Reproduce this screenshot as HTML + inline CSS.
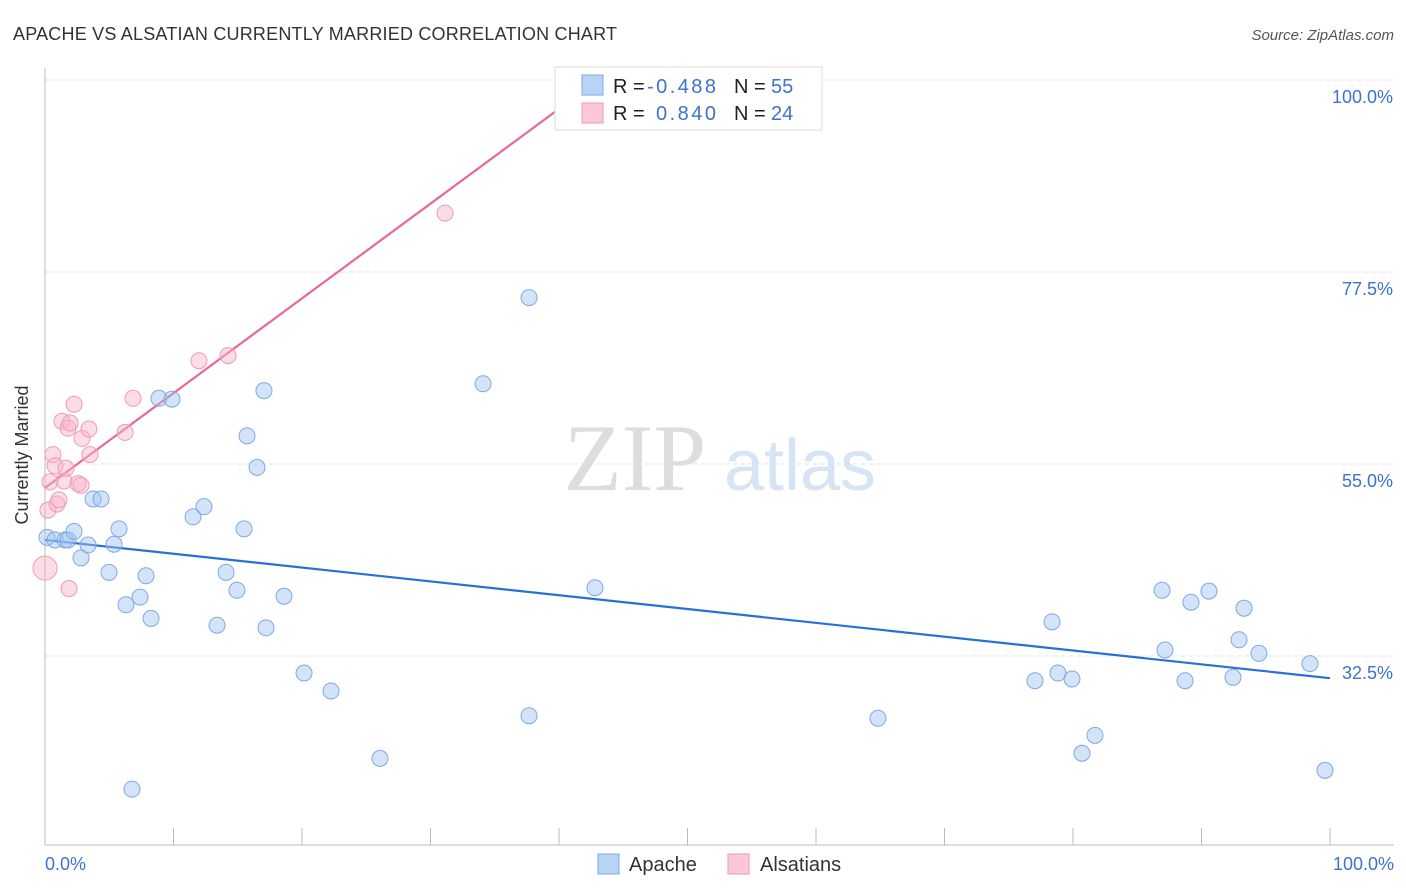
<!DOCTYPE html>
<html><head><meta charset="utf-8"><style>
body{margin:0;background:#fff;font-family:"Liberation Sans",sans-serif;}
svg{display:block}
</style></head><body>
<svg id="c" width="1406" height="892">
<text x="13" y="40" font-size="18" fill="#333" textLength="604">APACHE VS ALSATIAN CURRENTLY MARRIED CORRELATION CHART</text>
<text x="1394" y="40" font-size="15" fill="#555" font-style="italic" text-anchor="end">Source: ZipAtlas.com</text>
<g>
<text x="635" y="490" font-size="95" fill="#ddd" font-family="Liberation Serif,serif" text-anchor="middle">ZIP</text>
<text x="800" y="490" font-size="72" fill="#d6e4f5" text-anchor="middle">atlas</text>
</g>
<g id="grid"></g><g id="axes"></g><g id="lines"></g><g id="pts"></g>
<text x="28" y="455" font-size="18" fill="#333" text-anchor="middle" transform="rotate(-90 28 455)">Currently Married</text>
<text x="45" y="870" font-size="18" fill="#3b73d1">0.0%</text>
<text x="1394" y="870" font-size="18" fill="#3b73d1" text-anchor="end">100.0%</text>
<g>
<rect x="555" y="67" width="267" height="63" fill="#fff" stroke="#ddd"/>
<rect x="582" y="75" width="21" height="20" fill="#b9d3f5" stroke="#7ea8e6"/>
<rect x="582" y="103" width="21" height="20" fill="#fbc8d8" stroke="#ef9ab5"/>
<text font-size="20" fill="#222" x="613" y="93">R = <tspan fill="#3b73d1" x="647" textLength="69">-0.488</tspan><tspan x="734">N = </tspan><tspan fill="#3b73d1" x="771">55</tspan></text>
<text font-size="20" fill="#222" x="613" y="120">R = <tspan fill="#3b73d1" x="656" textLength="60">0.840</tspan><tspan x="734">N = </tspan><tspan fill="#3b73d1" x="771">24</tspan></text>
</g>
<g>
<rect x="598" y="854" width="21" height="20" fill="#b9d3f5" stroke="#7ea8e6"/>
<text x="629" y="871" font-size="20" fill="#333">Apache</text>
<rect x="728" y="854" width="21" height="20" fill="#fbc8d8" stroke="#ef9ab5"/>
<text x="760" y="871" font-size="20" fill="#333">Alsatians</text>
</g>
</svg>
<script>
const yTicks=[100,77.5,55,32.5];
const yTickLabels=["100.0%","77.5%","55.0%","32.5%"];
const xTicks=[0,10,20,30,40,50,60,70,80,90,100];
const apacheX=[0.16,0.78,1.56,1.79,2.26,2.80,3.35,3.74,4.36,4.98,5.37,5.76,6.30,7.39,7.86,8.25,8.87,9.88,11.52,12.37,13.39,14.09,14.94,15.49,15.72,16.50,17.04,17.20,18.60,20.16,22.26,26.07,6.77,34.09,37.67,37.67,42.80,64.82,77.04,78.37,78.83,79.92,80.70,81.71,86.93,87.16,88.72,89.18,90.58,92.45,92.92,93.31,94.47,98.44,99.61];
const apacheY=[46.4,46.1,46.1,46.1,47.1,44.0,45.5,50.9,50.9,42.3,45.6,47.4,38.5,39.4,41.9,36.9,62.7,62.6,48.8,50.0,36.1,42.3,40.2,47.4,58.3,54.6,63.6,35.8,39.5,30.5,28.4,20.5,16.9,64.4,74.5,25.5,40.5,25.2,29.6,36.5,30.5,29.8,21.1,23.2,40.2,33.2,29.6,38.8,40.1,30.0,34.4,38.1,32.8,31.6,19.1];
const alsX=[0,0.23,0.62,0.78,0.93,1.09,1.32,1.48,1.63,1.79,1.87,1.95,2.26,2.57,2.80,2.88,3.42,3.50,6.23,6.85,11.98,14.24,31.13,0.39];
const alsY=[42.8,49.6,56.1,54.8,50.3,50.8,60.0,53.0,54.5,59.2,40.4,59.8,62.0,52.7,52.5,58.0,59.1,56.1,58.7,62.7,67.1,67.7,84.4,52.9];
const apacheTrend=[[0,46.1],[100,29.9]];
const alsTrend=[[0,52.2],[40.08,96.7]];
const NS="http://www.w3.org/2000/svg";
const X=p=>45+p*12.85, Y=v=>80+(100-v)*8.533;
function mk(t,a,parent){const e=document.createElementNS(NS,t);for(const k in a)e.setAttribute(k,a[k]);document.getElementById(parent).appendChild(e);return e;}
yTicks.forEach((v,i)=>{
 const l=mk('line',{x1:45,x2:1394,y1:Y(v),y2:Y(v),stroke:'#ddd','stroke-dasharray':'4,4'},'grid');
 
 
 const t=mk('text',{x:1393,y:Y(v)+23,'font-size':18,fill:'#3b73d1','text-anchor':'end'},'grid');
 t.textContent=yTickLabels[i];
 
 
});
const ax=mk('line',{x1:45,x2:45,y1:68,y2:845,stroke:'#bbb'},'axes');


const bx=mk('line',{x1:45,x2:1394,y1:845,y2:845,stroke:'#bbb'},'axes');


xTicks.forEach(p=>{
 const t=mk('line',{x1:X(p),x2:X(p),y1:828,y2:845,stroke:'#bbb'},'axes');
 
 
});
apacheX.forEach((p,i)=>{
 const c=mk('circle',{cx:X(p),cy:Y(apacheY[i]),r:8,fill:'rgba(160,196,240,0.45)',stroke:'#7ea8e6','stroke-width':1},'pts');
 
 
});
alsX.forEach((p,i)=>{
 const c=mk('circle',{cx:X(p),cy:Y(alsY[i]),r:i===0?12:8,fill:'rgba(248,180,202,0.45)',stroke:'#ef9ab5','stroke-width':1},'pts');
 
 
});
const l1=mk('line',{x1:X(apacheTrend[0][0]),y1:Y(apacheTrend[0][1]),x2:X(apacheTrend[1][0]),y2:Y(apacheTrend[1][1]),stroke:'#2a6fd6','stroke-width':2.2},'lines');


const l2=mk('line',{x1:X(alsTrend[0][0]),y1:Y(alsTrend[0][1]),x2:X(alsTrend[1][0]),y2:Y(alsTrend[1][1]),stroke:'#e8679a','stroke-width':2.2},'lines');


</script>
</body></html>
